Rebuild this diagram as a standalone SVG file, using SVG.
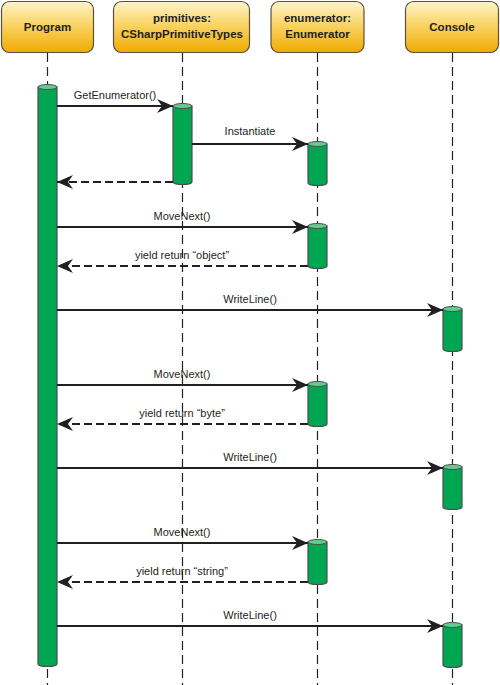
<svg xmlns="http://www.w3.org/2000/svg" width="500" height="685" viewBox="0 0 500 685">
<defs>
<linearGradient id="hdr" x1="0" y1="0" x2="0" y2="1">
<stop offset="0" stop-color="#fff4cc"/>
<stop offset="0.45" stop-color="#f9d466"/>
<stop offset="1" stop-color="#f0ab00"/>
</linearGradient>
<marker id="ah" markerUnits="userSpaceOnUse" markerWidth="17" markerHeight="14" refX="16" refY="7" orient="auto">
<path d="M0,0 L16,7 L0,14 L5,7 z" fill="#231f20"/>
</marker>
<style>
.box{fill:url(#hdr);stroke:#5a5040;stroke-width:1.2}
.ht{font-family:"Liberation Sans",Arial,sans-serif;font-weight:bold;font-size:11.5px;fill:#231f20;text-anchor:middle}
.life{stroke:#231f20;stroke-width:1.2;stroke-dasharray:9 5;fill:none}
.act{fill:#00a651;stroke:#4d4d4d;stroke-width:1.2}
.cap{fill:#5fcf90;stroke:#4d4d4d;stroke-width:1}
.msg{stroke:#231f20;stroke-width:1.8;fill:none;marker-end:url(#ah)}
.ret{stroke:#231f20;stroke-width:1.8;fill:none;stroke-dasharray:8 4;marker-end:url(#ah)}
.lbl{font-family:"Liberation Sans",Arial,sans-serif;font-size:11px;fill:#231f20;text-anchor:middle}
</style>
</defs>
<rect width="500" height="685" fill="#ffffff"/>

<g id="program">
<rect class="box" x="1.5" y="1.5" width="92" height="51" rx="8"/>
<text class="ht" x="47.5" y="31">Program</text>
<line class="life" x1="47.5" y1="53" x2="47.5" y2="685"/>
<path class="act" d="M38,87 L38,664 A9.5,2.5 0 0 0 57,664 L57,87 Z"/>
<ellipse class="cap" cx="47.5" cy="87" rx="9.5" ry="2.5"/>
</g>

<g id="primitives">
<rect class="box" x="113.5" y="1.5" width="136" height="51" rx="8"/>
<text class="ht" x="182" y="22">primitives:</text>
<text class="ht" x="182" y="38">CSharpPrimitiveTypes</text>
<line class="life" x1="182.5" y1="53" x2="182.5" y2="685"/>
<path class="act" d="M173,106 L173,182 A9.5,2.5 0 0 0 192,182 L192,106 Z"/>
<ellipse class="cap" cx="182.5" cy="106" rx="9.5" ry="2.5"/>
</g>

<g id="enumerator">
<rect class="box" x="271" y="1.5" width="93" height="51" rx="8"/>
<text class="ht" x="317.5" y="22">enumerator:</text>
<text class="ht" x="317.5" y="38">Enumerator</text>
<line class="life" x1="317.5" y1="53" x2="317.5" y2="685"/>
<path class="act" d="M308,144 L308,183 A9.5,2.5 0 0 0 327,183 L327,144 Z"/>
<ellipse class="cap" cx="317.5" cy="144" rx="9.5" ry="2.5"/>
<path class="act" d="M308,226 L308,266 A9.5,2.5 0 0 0 327,266 L327,226 Z"/>
<ellipse class="cap" cx="317.5" cy="226" rx="9.5" ry="2.5"/>
<path class="act" d="M308,384 L308,424 A9.5,2.5 0 0 0 327,424 L327,384 Z"/>
<ellipse class="cap" cx="317.5" cy="384" rx="9.5" ry="2.5"/>
<path class="act" d="M308,542 L308,582 A9.5,2.5 0 0 0 327,582 L327,542 Z"/>
<ellipse class="cap" cx="317.5" cy="542" rx="9.5" ry="2.5"/>
</g>

<g id="console">
<rect class="box" x="405.5" y="1.5" width="93" height="51" rx="8"/>
<text class="ht" x="452" y="31">Console</text>
<line class="life" x1="452.5" y1="53" x2="452.5" y2="685"/>
<path class="act" d="M443,309 L443,349 A9.5,2.5 0 0 0 462,349 L462,309 Z"/>
<ellipse class="cap" cx="452.5" cy="309" rx="9.5" ry="2.5"/>
<path class="act" d="M443,467 L443,507 A9.5,2.5 0 0 0 462,507 L462,467 Z"/>
<ellipse class="cap" cx="452.5" cy="467" rx="9.5" ry="2.5"/>
<path class="act" d="M443,625 L443,665 A9.5,2.5 0 0 0 462,665 L462,625 Z"/>
<ellipse class="cap" cx="452.5" cy="625" rx="9.5" ry="2.5"/>
</g>

<g id="connectors">
<line class="msg" x1="57" y1="106" x2="173" y2="106"/>
<text class="lbl" x="115" y="99">GetEnumerator()</text>
<line class="msg" x1="192" y1="144" x2="308" y2="144"/>
<text class="lbl" x="250" y="135">Instantiate</text>
<line class="ret" x1="173" y1="182" x2="57" y2="182"/>

<line class="msg" x1="57" y1="227" x2="308" y2="227"/>
<text class="lbl" x="182" y="220">MoveNext()</text>
<line class="ret" x1="308" y1="266" x2="57" y2="266"/>
<text class="lbl" x="182" y="259">yield return “object”</text>
<line class="msg" x1="57" y1="310" x2="443" y2="310"/>
<text class="lbl" x="250" y="303">WriteLine()</text>

<line class="msg" x1="57" y1="385" x2="308" y2="385"/>
<text class="lbl" x="182" y="378">MoveNext()</text>
<line class="ret" x1="308" y1="424" x2="57" y2="424"/>
<text class="lbl" x="182" y="417">yield return “byte”</text>
<line class="msg" x1="57" y1="468" x2="443" y2="468"/>
<text class="lbl" x="250" y="461">WriteLine()</text>

<line class="msg" x1="57" y1="543" x2="308" y2="543"/>
<text class="lbl" x="182" y="536">MoveNext()</text>
<line class="ret" x1="308" y1="582" x2="57" y2="582"/>
<text class="lbl" x="182" y="575">yield return “string”</text>
<line class="msg" x1="57" y1="626" x2="443" y2="626"/>
<text class="lbl" x="250" y="619">WriteLine()</text>
</g>
</svg>
